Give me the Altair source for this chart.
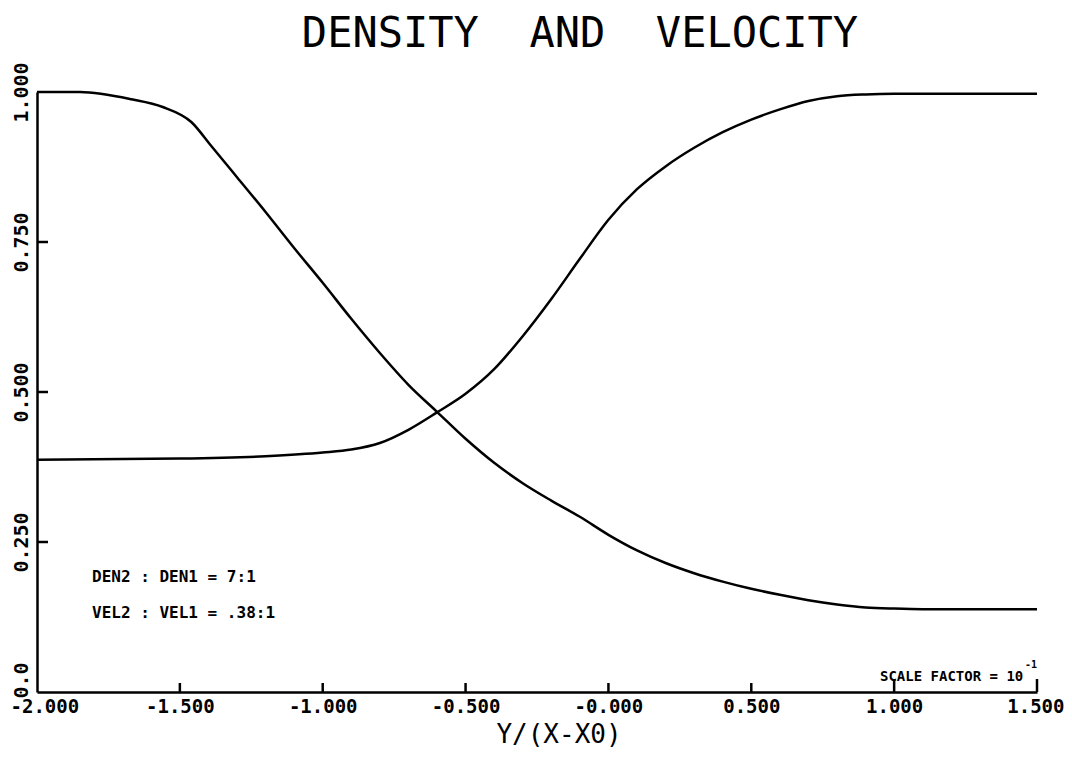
import altair as alt
import pandas as pd

# ---- data ----
den_x = [-2.0, -1.85, -1.67, -1.56, -1.46, -1.39, -1.3, -1.2, -1.1, -1.0, -0.9, -0.8,
         -0.7, -0.6, -0.5, -0.4, -0.3, -0.2, -0.1, 0.0, 0.1, 0.2, 0.3, 0.4, 0.5, 0.6,
         0.7, 0.8, 0.9, 1.0, 1.1, 1.5]
den_y = [1.0, 1.0, 0.988, 0.975, 0.95, 0.91, 0.858, 0.80, 0.74, 0.682, 0.622, 0.565,
         0.512, 0.467, 0.422, 0.382, 0.348, 0.319, 0.292, 0.262, 0.236, 0.215, 0.198, 0.184,
         0.172, 0.162, 0.153, 0.146, 0.141, 0.139, 0.138, 0.138]

vel_x = [-2.0, -1.5, -1.2, -1.0, -0.9, -0.8, -0.7, -0.6, -0.5, -0.4, -0.3, -0.2, -0.1,
         0.0, 0.1, 0.2, 0.3, 0.4, 0.5, 0.6, 0.7, 0.8, 0.9, 1.0, 1.5]
vel_y = [0.387, 0.389, 0.393, 0.399, 0.404, 0.415, 0.437, 0.466, 0.497, 0.538, 0.593,
         0.655, 0.722, 0.787, 0.838, 0.876, 0.907, 0.933, 0.954, 0.971, 0.985, 0.993,
         0.996, 0.997, 0.997]

x_ticks = [-2.0, -1.5, -1.0, -0.5, 0.0, 0.5, 1.0, 1.5]
x_tick_labels = ["-2.000", "-1.500", "-1.000", "-0.500", "-0.000", "0.500", "1.000", "1.500"]
y_ticks = [0.0, 0.25, 0.5, 0.75, 1.0]
y_tick_labels = ["0.0", "0.250", "0.500", "0.750", "1.000"]

NB = "\u00a0"
title_text = f"DENSITY{NB}{NB}AND{NB}{NB}VELOCITY"
x_title = "Y/(X-X0)"
note_den = "DEN2 : DEN1 = 7:1"
note_vel = "VEL2 : VEL1 = .38:1"
note_scale = "SCALE FACTOR = 10"
note_exp = "-1"

# ---- tables ----
curves = pd.concat([
    pd.DataFrame({"x": den_x, "y": den_y, "series": "DENSITY"}),
    pd.DataFrame({"x": vel_x, "y": vel_y, "series": "VELOCITY"}),
])


def label_expr(values, labels):
    parts = [f"datum.value == {v} ? '{l}'" for v, l in zip(values, labels)]
    return " : ".join(parts) + " : ''"


MONO = "DejaVu Sans Mono"

xscale = alt.Scale(domain=[-2.0, 1.5], nice=False, zero=False)
yscale = alt.Scale(domain=[0.0, 1.0], nice=False, zero=False)

x_axis = alt.Axis(values=x_ticks, labelExpr=label_expr(x_ticks, x_tick_labels),
                  title=None, grid=False, ticks=False, domainColor="black",
                  domainWidth=2.5, labelFont=MONO, labelFontSize=19,
                  labelFontWeight="bold", labelColor="black", labelPadding=5,
                  labelFlush=True, labelFlushOffset=27, labelOverlap=False)
y_axis = alt.Axis(values=y_ticks, labelExpr=label_expr(y_ticks, y_tick_labels),
                  title=None, grid=False, ticks=False, domainColor="black",
                  domainWidth=2.5, labelFont=MONO, labelFontSize=20,
                  labelFontWeight="bold", labelColor="black", labelAngle=270,
                  labelAlign="center", labelBaseline="alphabetic", labelPadding=10,
                  labelFlush=False, labelOverlap=False,
                  labelOffset={"condition": {"test": "datum.value == 0", "value": -12}, "value": 0})

lines = alt.Chart(curves).mark_line(color="black", strokeWidth=2.5, interpolate="monotone").encode(
    x=alt.X("x:Q", scale=xscale, axis=x_axis),
    y=alt.Y("y:Q", scale=yscale, axis=y_axis),
    detail="series:N",
)

# inward tick marks
xt_short = pd.DataFrame({"x": x_ticks[1:6]})
xt_tall = pd.DataFrame({"x": x_ticks[6:]})
yt = pd.DataFrame({"y": y_ticks[1:4]})

ticks_x = alt.Chart(xt_short).mark_rule(color="black", strokeWidth=2.5).encode(
    x=alt.X("x:Q", scale=xscale), y=alt.value(600), y2=alt.value(591))
ticks_x2 = alt.Chart(xt_tall).mark_rule(color="black", strokeWidth=2.5).encode(
    x=alt.X("x:Q", scale=xscale), y=alt.value(600), y2=alt.value(587))
ticks_y = alt.Chart(yt).mark_rule(color="black", strokeWidth=2.5).encode(
    y=alt.Y("y:Q", scale=yscale), x=alt.value(0), x2=alt.value(11))


def txt(text, x, y, size, weight="normal", align="left", baseline="middle"):
    return alt.Chart(pd.DataFrame({"t": [text]})).mark_text(
        font=MONO, fontSize=size, fontWeight=weight, color="black",
        align=align, baseline=baseline).encode(
        text="t:N", x=alt.value(x), y=alt.value(y))


title = txt(title_text, 543, -45, 42, align="center", baseline="alphabetic")
xtitle = txt(x_title, 522, 651, 26, align="center", baseline="alphabetic")
n1 = txt(note_den, 55, 485, 16, weight="bold")
n2 = txt(note_vel, 55, 521, 16, weight="bold")
n3 = txt(note_scale, 843, 585, 14, weight="bold")
n4 = txt(note_exp, 988, 573, 10, weight="bold")

chart = alt.layer(lines, ticks_x, ticks_x2, ticks_y, title, xtitle, n1, n2, n3, n4).properties(
    width=1000, height=600,
    autosize=alt.AutoSizeParams(type="none"),
    padding={"left": 29, "top": 84, "right": 27, "bottom": 57},
    background="white",
).configure_view(stroke="transparent")

chart.save("out.html", embed_options={"renderer": "svg", "actions": False})
